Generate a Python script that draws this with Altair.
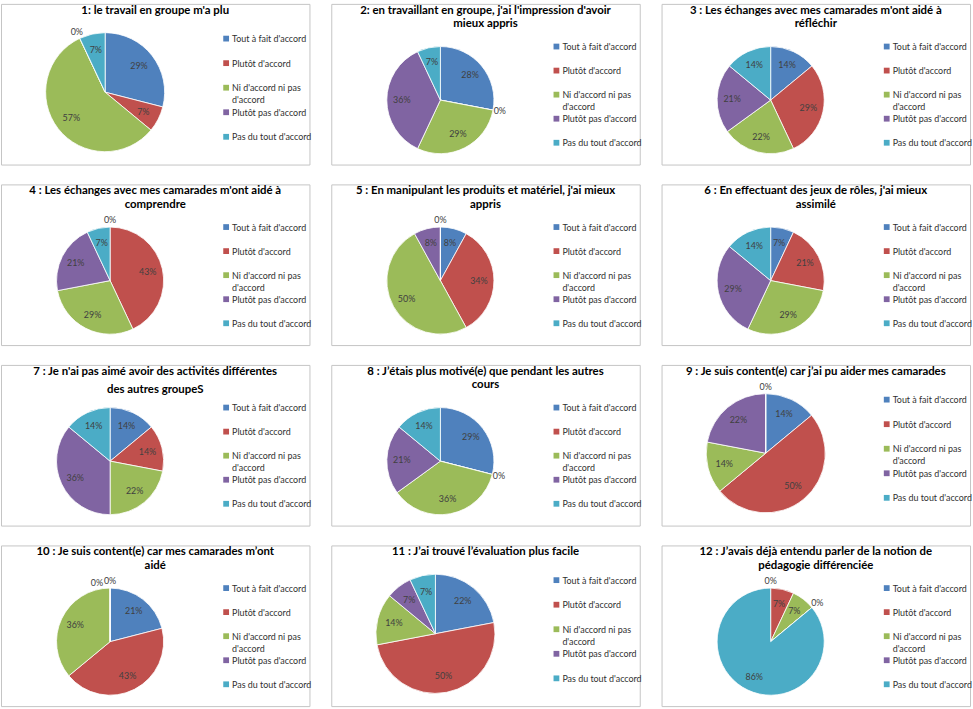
import altair as alt
import pandas as pd

# Answer categories, shared by every question
categories = [
    "Tout à fait d'accord",
    "Plutôt d'accord",
    "Ni d'accord ni pas d'accord",
    "Plutôt pas d'accord",
    "Pas du tout d'accord",
]
legend_labels = [
    "Tout à fait d'accord",
    "Plutôt d'accord",
    "Ni d'accord ni pas\nd'accord",
    "Plutôt pas d'accord",
    "Pas du tout d'accord",
]
palette = ["#4F81BD", "#C0504D", "#9BBB59", "#8064A2", "#4BACC6"]

titles = [
    "1: le travail en groupe m'a plu",
    "2: en travaillant en groupe, j'ai l'impression d'avoir\nmieux appris",
    "3 : Les échanges avec mes camarades m'ont aidé à\nréfléchir",
    "4 : Les échanges avec mes camarades m'ont aidé à\ncomprendre",
    "5 : En manipulant  les produits et matériel, j'ai mieux\nappris",
    "6 : En effectuant des jeux de rôles, j'ai mieux\nassimilé",
    "7 : Je n'ai pas aimé avoir des activités différentes\ndes autres groupeS",
    "8 : J’étais plus motivé(e) que pendant les autres\ncours",
    "9 : Je suis content(e) car j’ai pu aider mes camarades",
    "10 : Je suis content(e) car mes camarades m’ont\naidé",
    "11 : J’ai trouvé l’évaluation plus facile",
    "12 : J’avais déjà entendu parler de la notion de\npédagogie différenciée",
]

# Share of answers (%) per question, in the order of `categories`
q1 = [29, 7, 57, 0, 7]
q2 = [28, 0, 29, 36, 7]
q3 = [14, 29, 22, 21, 14]
q4 = [0, 43, 29, 21, 7]
q5 = [8, 34, 50, 8, 0]
q6 = [7, 21, 29, 29, 14]
q7 = [14, 14, 22, 36, 14]
q8 = [29, 0, 36, 21, 14]
q9 = [14, 50, 14, 22, 0]
q10 = [21, 43, 36, 0, 0]
q11 = [22, 50, 14, 7, 7]
q12 = [0, 7, 7, 0, 86]
answers = [q1, q2, q3, q4, q5, q6, q7, q8, q9, q10, q11, q12]

FONT = "Lato"
W, H = 311, 162


def panel(title, pct, title_gap=13.5):
    single = "\n" not in title
    r = 60 if single else 54
    cx = 105 if single else 110
    cy = 89 if single else 97
    y0, y1 = (35, 134) if single else (43, 140)

    df = pd.DataFrame({"cat": categories, "k": list(range(5)), "pct": pct, "leg": legend_labels})
    base = alt.Chart(df)
    color = alt.Color("cat:N", scale=alt.Scale(domain=categories, range=palette), legend=None)

    pie = base.mark_arc(outerRadius=r, stroke="white", strokeWidth=0.8).encode(
        theta=alt.Theta("pct:Q", stack=True),
        order=alt.Order("k:Q"),
        color=color,
        x=alt.value(cx),
        y=alt.value(cy),
    )

    # Percent labels: inside the slice, or just outside the rim for empty answers
    labels = base.transform_window(
        cum="sum(pct)", sort=[alt.SortField("k")], frame=[None, 0]
    ).transform_window(
        zr="rank()", groupby=["cum"], sort=[alt.SortField("k", order="descending")]
    ).transform_calculate(
        ang="(datum.cum - datum.pct / 2) / 100 * 2 * PI - (datum.pct == 0 ? (datum.zr - 1) * 0.22 : 0)",
        rad=f"datum.pct == 0 ? {r + 7} : {r * 0.72}",
        txt="datum.pct + '%'",
    ).mark_text(font=FONT, fontSize=9, color="#404040").encode(
        theta=alt.Theta("ang:Q", scale=None, stack=False),
        radius=alt.Radius("rad:Q", scale=None),
        text="txt:N",
        x=alt.value(cx),
        y=alt.value(cy),
    )

    # Hand-built legend: one row per answer, evenly spaced
    ypos = alt.Y(
        "cat:N", sort=categories,
        scale=alt.Scale(type="point", range=[y0, y1], padding=0), axis=None,
    )
    keys = base.mark_square(size=34, opacity=1).encode(x=alt.value(227), y=ypos, color=color)
    keytext = base.mark_text(
        font=FONT, fontSize=9, align="left", baseline="alphabetic", dy=3.5,
        lineBreak="\n", lineHeight=12, color="#303030",
    ).encode(x=alt.value(233), y=ypos, text="leg:N")

    head = alt.Chart(pd.DataFrame({"t": [title]})).mark_text(
        font=FONT, fontSize=11.5, fontWeight="bold", baseline="middle",
        lineBreak="\n", lineHeight=title_gap, color="black",
    ).encode(text="t:N", x=alt.value(W / 2), y=alt.value(7))

    return alt.layer(pie, labels, keys, keytext, head).resolve_scale(
        theta="independent"
    ).properties(width=W, height=H)


gaps = [13.5] * 12
gaps[6] = 18
panels = [panel(t, a, g) for t, a, g in zip(titles, answers, gaps)]
rows = [alt.hconcat(*panels[i:i + 3], spacing=18) for i in range(0, 12, 3)]

chart = alt.vconcat(*rows, spacing=18).properties(
    padding=0, background="white"
).configure_view(stroke="#c4c4c4", strokeWidth=1)

chart.save("out.html", embed_options={"renderer": "svg", "actions": False})
